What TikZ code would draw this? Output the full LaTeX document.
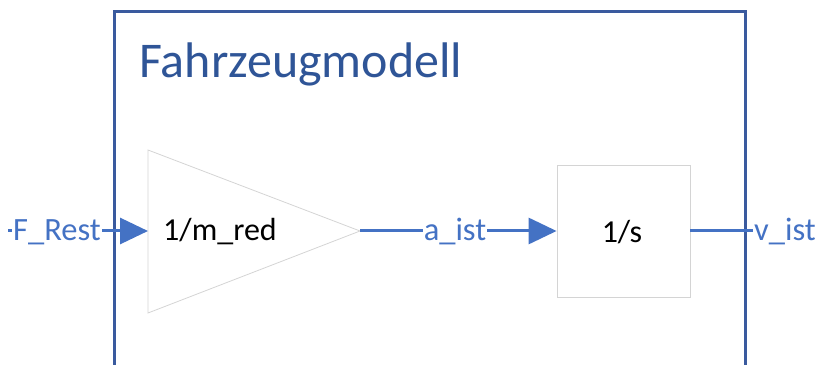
\documentclass[tikz,border=0pt]{standalone}
\usepackage{fontspec}
\setmainfont{Carlito}
\usetikzlibrary{arrows.meta}
\definecolor{signal}{HTML}{4472C4}
\definecolor{frame}{HTML}{3A5A9E}
\definecolor{titleblue}{HTML}{2F5597}
\definecolor{blockgray}{HTML}{D4D4D4}
\tikzset{
  x=1pt, y=1pt,
  signalline/.style={draw=signal, line width=3pt, -{Triangle[length=28pt,width=26pt]}},
  plainline/.style={draw=signal, line width=3pt},
  siglabel/.style={fill=white, text=signal, inner sep=1pt, font=\fontsize{32.5}{36}\selectfont},
  blocktext/.style={text=black, font=\fontsize{32}{36}\selectfont},
  blockframe/.style={draw=blockgray, line width=0.8pt}
}
\begin{document}
\begin{tikzpicture}
\useasboundingbox (0,0) rectangle (824,364);
\clip (0,0) rectangle (824,364);
% outer subsystem frame, running off the bottom edge
\draw[frame, line width=3pt] (114,-10) -- (114,352) -- (745,352) -- (745,-10);
\node[anchor=base west, text=titleblue, font=\fontsize{50}{58}\selectfont, inner sep=0pt] (title) at (139,286) {Fahrzeugmodell};
% gain block (triangle)
\coordinate (gainTop) at (148,214);
\coordinate (gainBot) at (148,51);
\coordinate (gainIn) at (148,133);
\coordinate (gainOut) at (360,133);
\draw[blockframe] (gainTop) -- (gainOut) -- (gainBot) -- cycle;
\node[blocktext] (gaintext) at (220,132) {1/m\_red};
% integrator block
\node[blockframe, minimum width=133pt, minimum height=132pt, inner sep=0pt] (integ) at (623.5,133) {};
\node[blocktext] (integtext) at (622,132) {1/s};
% signals
\coordinate (inStart) at (8,133);
\draw[signalline] (inStart) -- (gainIn);
\node[siglabel] (frest) at (57,132) {F\_Rest};
\draw[signalline] (gainOut) -- (integ.west);
\node[siglabel] (aist) at (455,132) {a\_ist};
\node[siglabel, anchor=west] (vist) at (753,132) {v\_ist};
\draw[plainline] (integ.east) -- (integ.east -| vist.west);
\end{tikzpicture}
\end{document}
